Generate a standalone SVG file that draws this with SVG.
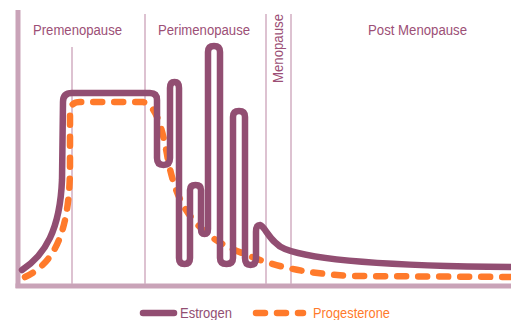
<svg xmlns="http://www.w3.org/2000/svg" width="511" height="320" viewBox="0 0 511 320">
<style>
.axis{stroke:#c9a3b8;stroke-width:5;fill:none}
.div{stroke:#d2aec2;stroke-width:1.5;fill:none}
.lbl{font-family:"Liberation Sans",Arial,sans-serif;font-size:14px;fill:#9c4f76}
.est{stroke:#924e72;stroke-width:6.5;fill:none;stroke-linecap:round;stroke-linejoin:round}
.pro{stroke:#ff7a2b;stroke-width:6.5;fill:none;stroke-linecap:round;stroke-dasharray:9 12}
</style>
<rect width="511" height="320" fill="#ffffff"/>
<g id="axes">
<line class="axis" x1="18" y1="10" x2="18" y2="288"/>
<line class="axis" x1="15.5" y1="286" x2="511" y2="286"/>
</g>
<g id="dividers">
<line class="div" x1="72" y1="47" x2="72" y2="284"/>
<line class="div" x1="145" y1="14" x2="145" y2="284"/>
<line class="div" x1="266" y1="14" x2="266" y2="284"/>
<line class="div" x1="291" y1="14" x2="291" y2="284"/>
</g>
<g id="phase-labels">
<text class="lbl" x="33" y="35" textLength="89" lengthAdjust="spacingAndGlyphs">Premenopause</text>
<text class="lbl" x="158" y="35" textLength="92" lengthAdjust="spacingAndGlyphs">Perimenopause</text>
<text class="lbl" x="368" y="35" textLength="99" lengthAdjust="spacingAndGlyphs">Post Menopause</text>
<text class="lbl" transform="translate(283,83) rotate(-90)" x="0" y="0" textLength="69" lengthAdjust="spacingAndGlyphs">Menopause</text>
</g>
<g id="curves">
<path id="progesterone" class="pro" d="M25,277 C50,265 70,240 70,165 L70,112 Q70,102 80,102 L143,102 C155,104 162,125 168,160 C173,185 180,205 195,222 C210,238 225,247 245,254 C270,265 300,273 350,276 L511,277"/>
<path id="estrogen" class="est" d="M22,270 C45,255 60,230 62,180 L63,102 Q63,93 72,93 L150,93 Q157,93 157,100 L157,158 Q157,165 163.5,165 Q170,165 170,158 L170,88 Q170,82 174.5,82 Q179,82 179,88 L179,258 Q179,264 184.5,264 Q190,264 190,258 L190,190 Q190,185 195.5,185 Q201,185 201,190 L201,229 Q201,234 204.5,234 Q208,234 208,229 L208,52 Q208,46 214,46 Q220,46 220,52 L220,258 Q220,264 226.5,264 Q233,264 233,258 L233,117 Q233,111 239,111 Q245,111 245,117 L245,258 Q245,265 250.5,265 Q256,265 256,258 L256,232 Q256,225 260,225 C265,226 270,243 285,249 C310,259 380,266 511,267"/>
</g>
<g id="legend">
<line class="est" x1="143" y1="313" x2="174" y2="313"/>
<text x="180" y="318" textLength="52" lengthAdjust="spacingAndGlyphs" style="font-family:'Liberation Sans',Arial,sans-serif;font-size:14px;fill:#924e72">Estrogen</text>
<line class="pro" x1="256" y1="313" x2="303" y2="313"/>
<text x="313" y="318" textLength="77" lengthAdjust="spacingAndGlyphs" style="font-family:'Liberation Sans',Arial,sans-serif;font-size:14px;fill:#ff7a2b">Progesterone</text>
</g>
</svg>
